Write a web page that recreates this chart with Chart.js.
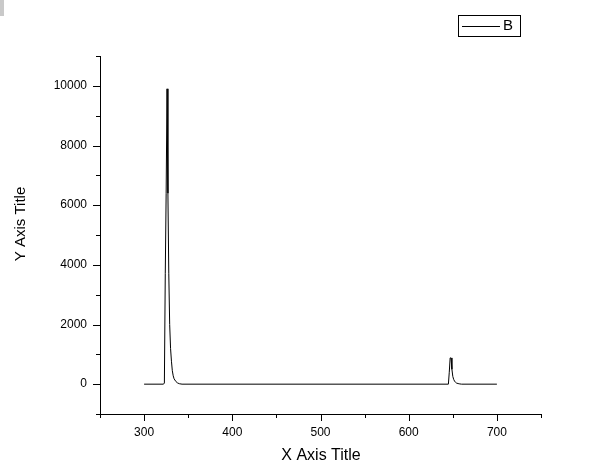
<!DOCTYPE html>
<html>
<head>
<meta charset="utf-8">
<script src="https://cdn.jsdelivr.net/npm/chart.js@4.4.1/dist/chart.umd.min.js"></script>
<style>
    html, body { margin: 0; padding: 0; background: #fff; }
    #wrap { position: relative; width: 592px; height: 474px; }
    #corner { position: absolute; left: 0; top: 0; width: 4px; height: 16px; background: #c9c9c9; }
</style>
</head>
<body>
<div id="wrap">
    <canvas id="spectrumChart" width="592" height="474"></canvas>
    <div id="corner"></div>
</div>
<script>
// Data
const seriesName = 'B';
const wavelength = [300, 322, 323, 324, 325, 326, 327, 328, 329, 330, 331, 332, 333, 334, 336, 338, 340, 343,
                    645, 646, 647, 648, 649, 650, 651, 652, 653, 654, 656, 658, 660, 700];
const intensity = [0, 0, 40, 3700, 6400, 9900, 6400, 3700, 2000, 1200, 770, 450, 280, 180, 90, 40, 15, 0,
                   0, 400, 880, 880, 500, 260, 160, 100, 65, 40, 20, 8, 0, 0];
const xTickLabels = [300, 400, 500, 600, 700];
const yTickLabels = [0, 2000, 4000, 6000, 8000, 10000];
const xTitle = 'X Axis Title';
const yTitle = 'Y Axis Title';

const FONT = '"Liberation Sans", Arial, sans-serif';

// Origin style ticks, titles and legend box
const originDecor = {
    id: 'originDecor',
    afterDraw(chart) {
        const ctx = chart.ctx;
        const xs = chart.scales.x;
        const ys = chart.scales.y;
        ctx.save();
        ctx.strokeStyle = '#000';
        ctx.lineWidth = 1;
        ctx.beginPath();
        xs.ticks.forEach(t => {
            const px = Math.round(xs.getPixelForValue(t.value)) + 0.5;
            const len = xTickLabels.includes(t.value) ? 7 : 4;
            ctx.moveTo(px, xs.top);
            ctx.lineTo(px, xs.top + len);
        });
        ys.ticks.forEach(t => {
            const py = Math.round(ys.getPixelForValue(t.value)) + 0.5;
            const len = yTickLabels.includes(t.value) ? 7 : 4;
            ctx.moveTo(ys.right, py);
            ctx.lineTo(ys.right - len, py);
        });
        ctx.stroke();

        // axis titles
        ctx.fillStyle = '#000';
        ctx.textAlign = 'center';
        ctx.textBaseline = 'middle';
        ctx.font = '16px ' + FONT;
        ctx.fillText(xTitle, 321, 456);
        ctx.save();
        ctx.translate(21, 224);
        ctx.rotate(-Math.PI / 2);
        ctx.font = '15px ' + FONT;
        ctx.fillText(yTitle, 0, 0);
        ctx.restore();

        // legend
        ctx.strokeRect(458.5, 15.5, 62, 21);
        ctx.beginPath();
        ctx.moveTo(462, 26.5);
        ctx.lineTo(500, 26.5);
        ctx.stroke();
        ctx.font = '15px ' + FONT;
        ctx.textAlign = 'left';
        ctx.fillText(chart.data.datasets[0].label, 503, 26);
        ctx.restore();
    }
};

const ctx = document.getElementById('spectrumChart').getContext('2d');
const spectrumChart = new Chart(ctx, {
    type: 'scatter',
    data: {
        datasets: [{
            label: seriesName,
            data: wavelength.map((w, i) => ({ x: w, y: intensity[i] })),
            showLine: true,
            borderColor: '#000',
            borderWidth: 1,
            pointRadius: 0,
            tension: 0
        }]
    },
    options: {
        responsive: false,
        animation: false,
        layout: { padding: { left: 0, top: 56, right: 51, bottom: 0 } },
        plugins: {
            legend: { display: false },
            tooltip: { enabled: false }
        },
        scales: {
            x: {
                type: 'linear',
                min: 250,
                max: 750,
                afterFit: scale => { scale.height = 60; },
                grid: { display: false, drawTicks: false },
                border: { display: true, color: '#000', width: 1 },
                ticks: {
                    stepSize: 50,
                    autoSkip: false,
                    maxRotation: 0,
                    padding: 11,
                    color: '#000',
                    font: { family: FONT, size: 12 },
                    callback: v => xTickLabels.includes(v) ? String(v) : ''
                }
            },
            y: {
                type: 'linear',
                min: -1000,
                max: 11000,
                afterFit: scale => { scale.width = 100; },
                grid: { display: false, drawTicks: false },
                border: { display: true, color: '#000', width: 1 },
                ticks: {
                    stepSize: 1000,
                    autoSkip: false,
                    padding: 13,
                    color: '#000',
                    font: { family: FONT, size: 12 },
                    callback: v => yTickLabels.includes(v) ? String(v) : ''
                }
            }
        }
    },
    plugins: [originDecor]
});
</script>
</body>
</html>
